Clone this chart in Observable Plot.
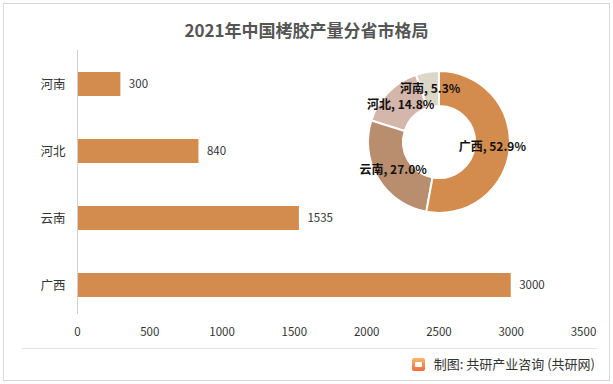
<!DOCTYPE html>
<html><head><meta charset="utf-8">
<script src="https://cdn.jsdelivr.net/npm/d3@7"></script>
<script src="https://cdn.jsdelivr.net/npm/@observablehq/plot@0.6"></script>
<style>
body{margin:0;background:#fff;font-family:"Noto Sans CJK SC","Noto Sans",sans-serif;}
#wrap{position:relative;width:613px;height:384px;overflow:hidden;background:#fff;}
#frame{position:absolute;left:3px;top:3px;width:607px;height:378px;border:1px solid #d9d9d9;box-sizing:border-box;}
#title{position:absolute;left:0;top:17px;width:613px;text-align:center;font-size:17px;font-weight:bold;color:#555;line-height:26px;}
#chart{position:absolute;left:0;top:50px;}
#hline{position:absolute;left:22px;top:348px;width:575px;height:1px;background:#e3e3e3;}
#footer{position:absolute;right:18px;top:354px;font-size:13px;color:#333;line-height:20px;display:flex;align-items:center;}
#logo{display:inline-block;width:13px;height:13px;margin-right:9px;border-radius:2px;background:linear-gradient(180deg,#f9b873,#ef6a3a);position:relative;}
#logo::after{content:"";position:absolute;left:3px;top:4px;width:7px;height:5px;background:#fff;border-radius:1px;}
</style></head>
<body>
<div id="wrap">
  <div id="frame"></div>
  <div id="title">2021年中国栲胶产量分省市格局</div>
  <div id="chart"></div>
  <div id="hline"></div>
  <div id="footer"><span id="logo"></span><span>制图: 共研产业咨询 (共研网)</span></div>
</div>
<script>
const provinces = ["河南", "河北", "云南", "广西"];
const output = [300, 840, 1535, 3000];
const xTicks = [0, 500, 1000, 1500, 2000, 2500, 3000, 3500];
const pieColors = {"广西": "#D48C4E", "云南": "#B98E6F", "河北": "#D5B6AA", "河南": "#DDD7C8"};

const data = provinces.map((p, i) => ({province: p, value: output[i]}));
const total = d3.sum(output);

function donutMark(index, scales, values, dimensions) {
  const cx = 439, cy = 92, R = 71, r = 36;
  const pie = d3.pie().value(d => d.value).sort((a, b) => b.value - a.value)(data);
  const arc = d3.arc().innerRadius(r).outerRadius(R);
  const g = d3.create("svg:g").attr("transform", `translate(${cx},${cy})`);
  g.selectAll("path").data(pie).join("path")
    .attr("d", arc)
    .attr("fill", d => pieColors[d.data.province])
    .attr("stroke", "#fff")
    .attr("stroke-width", 2);
  g.selectAll("text").data(pie).join("text")
    .attr("transform", d => `translate(${arc.centroid(d)})`)
    .attr("text-anchor", "middle")
    .attr("dy", "0.35em")
    .attr("font-size", 12)
    .attr("font-weight", "bold")
    .attr("fill", "#111")
    .text(d => `${d.data.province}, ${(d.data.value / total * 100).toFixed(1)}%`);
  return g.node();
}

const chart = Plot.plot({
  width: 613,
  height: 300,
  marginLeft: 77,
  marginRight: 30,
  marginTop: 0,
  marginBottom: 36,
  style: {background: "transparent", fontFamily: "'Noto Sans CJK SC', sans-serif", fontSize: "11.5px", color: "#333"},
  x: {domain: [0, 3500], ticks: xTicks, tickSize: 0, tickPadding: 13, label: null, tickFormat: d => String(d)},
  y: {domain: provinces, range: [22, 247], paddingInner: 0.642, paddingOuter: 0, tickSize: 0, tickPadding: 12, label: null},
  marks: [
    Plot.barX(data, {x: "value", y: "province", fill: "#D48C4E"}),
    Plot.ruleX([0], {stroke: "#d0d0d0", strokeWidth: 1}),
    Plot.text(data, {x: "value", y: "province", text: d => String(d.value), dx: 8, textAnchor: "start", fill: "#333", fontSize: 11.5}),
    donutMark
  ]
});
chart.querySelectorAll("g[aria-label='y-axis tick label'] text").forEach(t => t.setAttribute("font-size", "12.5"));
document.getElementById("chart").appendChild(chart);
</script>
</body></html>
